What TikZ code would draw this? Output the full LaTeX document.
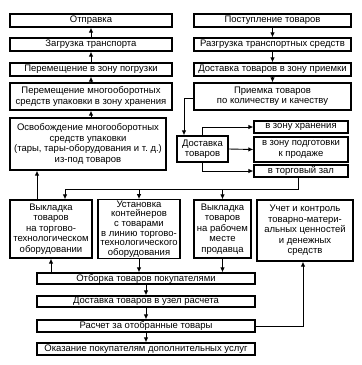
\documentclass[tikz,border=0pt]{standalone}
\usepackage{fontspec}
\setmainfont{Liberation Sans}
\usepackage{tikz}
\usetikzlibrary{arrows.meta,positioning,calc}

\begin{document}
\begin{tikzpicture}[
    x=1pt, y=-1pt,
    blk/.style={draw, line width=1.3pt, fill=white, align=center, inner sep=1pt,
        font=\fontsize{9.5}{10.4}\selectfont},
    conn/.style={line width=0.9pt},
    arr/.style={conn, -{Latex[length=5pt,width=4.5pt]}}
]
    \useasboundingbox (0,0) rectangle (362,365);

    % Left column (shipping)
    \node[blk, minimum width=162pt, minimum height=13pt] (otpr) at (91,20.5) {Отправка};
    \node[blk, minimum width=162pt, minimum height=13pt] (zagr) at (91,44.5) {Загрузка транспорта};
    \node[blk, minimum width=162pt, minimum height=13pt] (pogr) at (91,69.5) {Перемещение в зону погрузки};
    \node[blk, minimum width=162pt, minimum height=27pt] (hran) at (91,96.5)
        {Перемещение многооборотных\\средств упаковки в зону хранения};
    \node[blk, minimum width=156pt, minimum height=52pt] (osvob) at (88,144)
        {Освобождение многооборотных\\средств упаковки\\(тары, тары-оборудования и т.~д.)\\из-под товаров};

    % Right column (receiving)
    \node[blk, minimum width=157pt, minimum height=13pt] (post) at (272.5,20.5) {Поступление товаров};
    \node[blk, minimum width=157pt, minimum height=13pt] (razgr) at (272.5,44.5) {Разгрузка транспортных средств};
    \node[blk, minimum width=157pt, minimum height=13pt] (dpriem) at (272.5,69.5) {Доставка товаров в зону приемки};
    \node[blk, minimum width=157pt, minimum height=27pt] (priem) at (272.5,96.5)
        {Приемка товаров\\по количеству и качеству};

    % Delivery to zones
    \node[blk, minimum width=51pt, minimum height=26pt] (dost) at (202.5,149) {Доставка\\товаров};
    \node[blk, minimum width=94pt, minimum height=12pt] (zh) at (301,127) {в зону хранения};
    \node[blk, minimum width=94pt, minimum height=25pt] (zp) at (301,149.5) {в зону подготовки\\к продаже};
    \node[blk, minimum width=94pt, minimum height=12pt] (tz) at (301,171) {в торговый зал};

    % Row of display boxes
    \node[blk, minimum width=82pt, minimum height=58pt] (vyk1) at (51,229)
        {Выкладка\\товаров\\на торгово-\\технологическом\\оборудовании};
    \node[blk, minimum width=82pt, minimum height=58pt, font=\fontsize{9.5}{9.6}\selectfont] (ust) at (139,229)
        {Установка\\контейнеров\\с товарами\\в линию торгово-\\технологического\\оборудования};
    \node[blk, minimum width=57pt, minimum height=58pt] (vyk2) at (222.5,229)
        {Выкладка\\товаров\\на рабочем\\месте\\продавца};
    \node[blk, minimum width=96pt, minimum height=61pt] (uchet) at (305,230.5)
        {Учет и контроль\\товарно-матери-\\альных ценностей\\и денежных\\средств};

    % Bottom chain
    \node[blk, minimum width=218pt, minimum height=11pt] (otb) at (146,278.5) {Отборка товаров покупателями};
    \node[blk, minimum width=218pt, minimum height=11pt] (uzel) at (146,301.5) {Доставка товаров в узел расчета};
    \node[blk, minimum width=218pt, minimum height=12pt] (rasch) at (146,326) {Расчет за отобранные товары};
    \node[blk, minimum width=218pt, minimum height=12pt] (okaz) at (146,349) {Оказание покупателям дополнительных услуг};

    % Arrows, left column (upwards)
    \draw[arr] (hran.south |- osvob.north) -- (hran.south);
    \draw[arr] (hran) -- (pogr);
    \draw[arr] (pogr) -- (zagr);
    \draw[arr] (zagr) -- (otpr);

    % Arrows, right column (downwards)
    \draw[arr] (post) -- (razgr);
    \draw[arr] (razgr) -- (dpriem);
    \draw[arr] (dpriem) -- (priem);
    \draw[arr] ([yshift=-1.5pt]priem.west) -| ([xshift=-18.5pt]dost.north);

    % Distribution to zones
    \draw[arr] (dost.north) |- (zh.west);
    \draw[arr] (dost.east) -- (zp.west);
    \draw[arr] (dost.south) |- (tz.west);

    % From sales floor to display boxes
    \coordinate (busR) at (298,189);
    \coordinate (busL) at (65,189);
    \draw[conn] (tz.south -| busR) -- (busR) -- (busL);
    \draw[arr] (busL) -- (busL |- vyk1.north);
    \draw[arr] (ust.north |- busL) -- (ust.north);
    \draw[arr] (vyk2.north |- busL) -- (vyk2.north);
    \draw[arr] ([xshift=-14pt]vyk1.north) -- ([xshift=-14pt]vyk1.north |- osvob.south);

    % Display boxes and selection
    \draw[arr] (vyk1.south |- otb.north) -- (vyk1.south);
    \draw[arr] (ust.south) -- (ust.south |- otb.north);
    \draw[arr] (vyk2.south) -- (vyk2.south |- otb.north);

    % Bottom chain
    \draw[arr] (otb) -- (uzel);
    \draw[arr] (uzel) -- (rasch);
    \draw[arr] (rasch) -- (okaz);
    \draw[arr] (rasch.east) -| ([xshift=-2pt]uchet.south);
\end{tikzpicture}
\end{document}
